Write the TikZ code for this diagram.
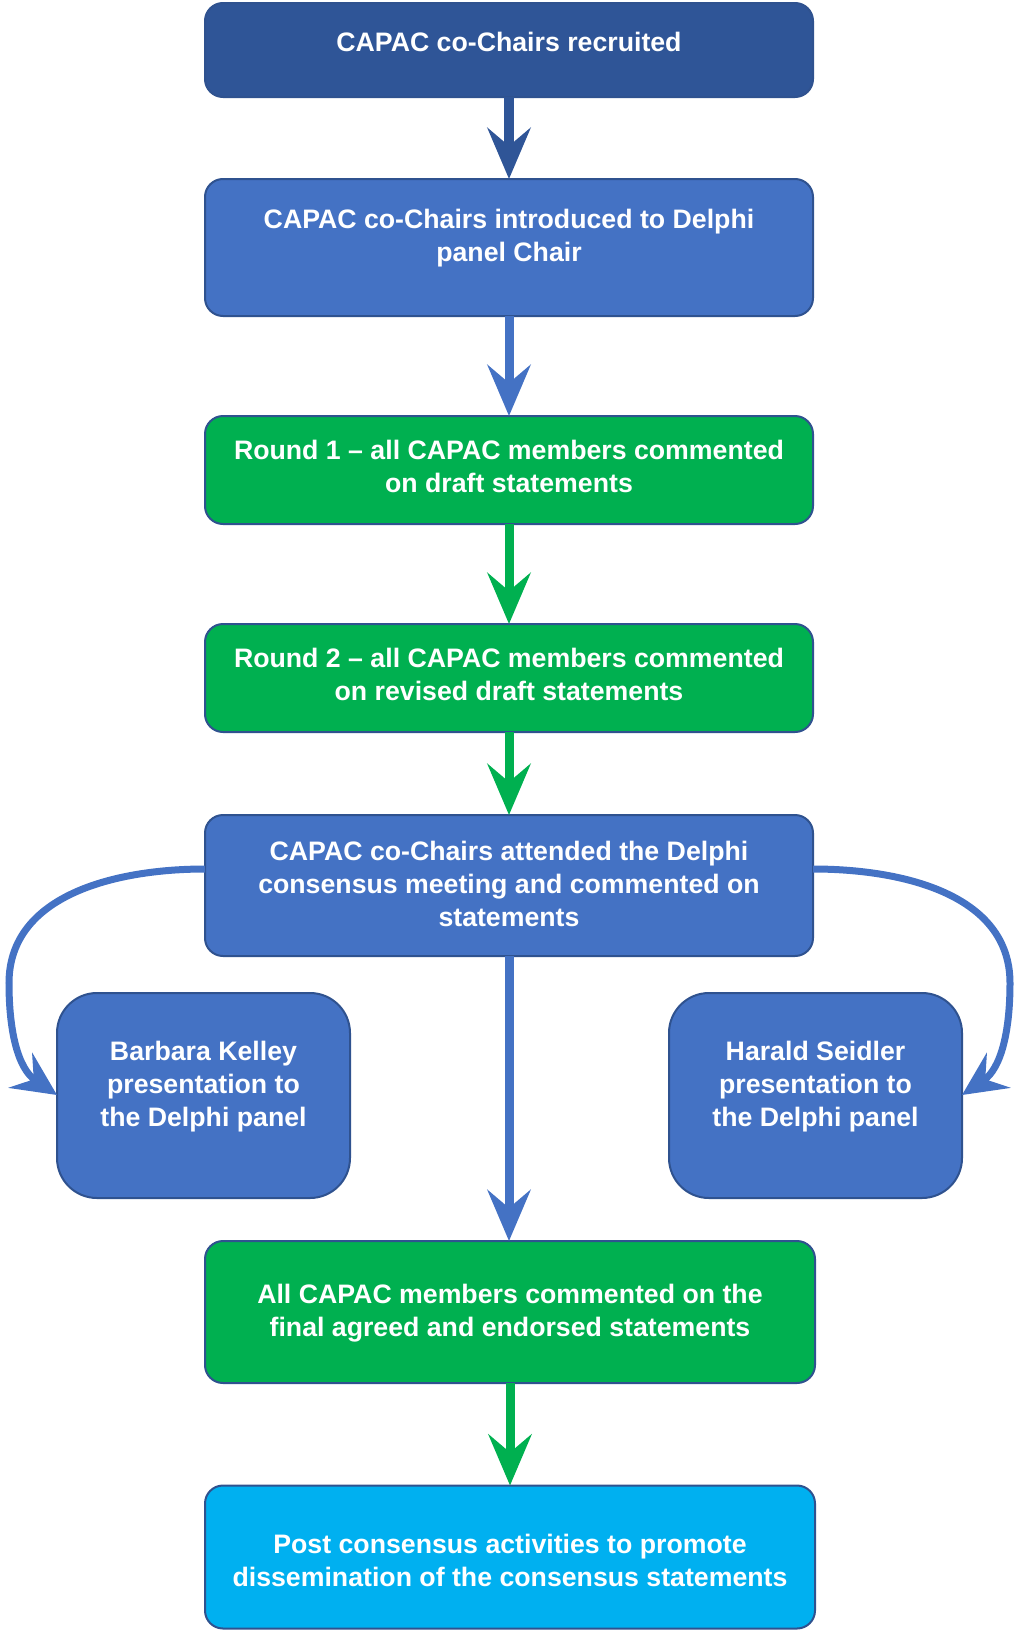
\documentclass[tikz,border=0pt]{standalone}
\usepackage{fontspec}
\setmainfont{Liberation Sans}
\usetikzlibrary{arrows.meta}
\definecolor{dkblue}{HTML}{2F5597}
\definecolor{midblue}{HTML}{4472C4}
\definecolor{edgeblue}{HTML}{2F528F}
\definecolor{grn}{HTML}{00B050}
\definecolor{cyn}{HTML}{00B0F0}
\tikzset{
  box/.style={draw=edgeblue, line width=2pt, rounded corners=18pt, minimum width=608pt, outer sep=0pt, inner sep=0pt},
  sidebox/.style={box, rounded corners=40pt, minimum width=293pt, minimum height=205pt},
  txt/.style={text=white, font=\fontsize{26.7}{33}\selectfont\bfseries, align=center, inner sep=0pt},
  arr/.style={line width=9pt, -{Stealth[length=51pt, width=43pt, inset=18pt]}},
  carr/.style={line width=7pt, -{Stealth[length=44pt, width=42pt, inset=16pt]}},
}
\begin{document}
\begin{tikzpicture}[x=1pt, y=-1pt]
\useasboundingbox (0,0) rectangle (1014,1630);
% boxes
\node[box, fill=dkblue, minimum height=94pt] (b1) at (509,50) {};
\node[box, fill=midblue, minimum height=137pt] (b2) at (509,247.5) {};
\node[box, fill=grn, minimum height=108pt] (b3) at (509,470) {};
\node[box, fill=grn, minimum height=108pt] (b4) at (509,678) {};
\node[box, fill=midblue, minimum height=141pt] (b5) at (509,885.5) {};
\node[sidebox, fill=midblue] (bl) at (203.5,1095.5) {};
\node[sidebox, fill=midblue] (br) at (815.5,1095.5) {};
\node[box, fill=grn, minimum width=610pt, minimum height=142pt] (b6) at (510,1312) {};
\node[box, fill=cyn, minimum width=610pt, minimum height=143pt] (b7) at (510,1557) {};
% texts
\node[txt] (t1) at (509,42) {CAPAC co-Chairs recruited};
\node[txt] (t2) at (509,238) {CAPAC co-Chairs introduced to Delphi\\panel Chair};
\node[txt] (t3) at (509,466.5) {Round 1 -- all CAPAC members commented\\on draft statements};
\node[txt] (t4) at (509,674.5) {Round 2 -- all CAPAC members commented\\on revised draft statements};
\node[txt] (t5) at (509,883.5) {CAPAC co-Chairs attended the Delphi\\consensus meeting and commented on\\statements};
\node[txt] (tl) at (203.5,1087) {Barbara Kelley\\presentation to\\the Delphi panel};
\node[txt] (tr) at (815.5,1087) {Harald Seidler\\presentation to\\the Delphi panel};
\node[txt] (t6) at (510,1313.5) {All CAPAC members commented on the\\final agreed and endorsed statements};
\node[txt] (t7) at (510,1560) {Post consensus activities to promote\\dissemination of the consensus statements};
% arrows
\draw[arr, line width=10pt, dkblue] (b1.south) -- (b2.north);
\draw[arr, midblue] (b2.south) -- (b3.north);
\draw[arr, grn] (b3.south) -- (b4.north);
\draw[arr, grn] (b4.south) -- (b5.north);
\draw[arr, midblue] (b5.south) -- (b6.north -| b5.south);
\draw[arr, grn] (b6.south) -- (b7.north);
\coordinate (lstart) at (b5.west |- 0,869);
\coordinate (rstart) at (b5.east |- 0,869);
\coordinate (lmid) at (9,983);
\coordinate (rmid) at (1010,983);
\coordinate (ltip) at (bl.west |- 0,1095);
\coordinate (rtip) at (br.east |- 0,1095);
\draw[carr, midblue] (lstart) to[out=180, in=90] (lmid) to[out=-90, in=146] (ltip);
\draw[carr, midblue] (rstart) to[out=0, in=90] (rmid) to[out=-90, in=34] (rtip);
\end{tikzpicture}
\end{document}
